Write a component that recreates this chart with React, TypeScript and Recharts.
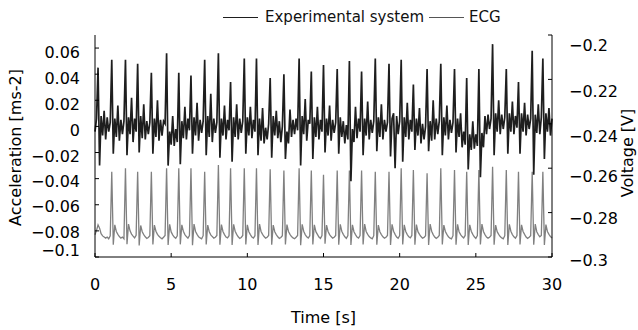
import React from 'react';
import { LineChart, Line, XAxis, YAxis, Legend, Label } from 'recharts';

const TIME_START = 0;
const TIME_STEP = 0.1;
const xTicks = [0, 5, 10, 15, 20, 25, 30];
const accTicks = [-0.1, -0.08, -0.06, -0.04, -0.02, 0, 0.02, 0.04, 0.06];
const voltTicks = [-0.3, -0.28, -0.26, -0.24, -0.22, -0.2];
const seriesNames = ['Experimental system', 'ECG'];

const experimental = [
  -0.004, 0.006, 0.045, -0.030, 0.008, -0.007, 0.012, -0.010, 0.007, -0.004,
  0.003, 0.051, -0.021, 0.006, -0.008, 0.016, -0.011, 0.005, -0.006, 0.004,
  0.051, -0.022, 0.007, -0.006, 0.022, -0.012, 0.006, -0.004, 0.048, -0.020,
  0.008, -0.009, 0.017, -0.010, 0.004, -0.006, 0.003, 0.041, -0.021, 0.006,
  -0.008, 0.020, -0.011, 0.005, -0.007, 0.004, 0.002, 0.056, -0.030, -0.004,
  -0.014, 0.008, -0.015, -0.002, -0.012, 0.041, -0.029, 0.004, -0.009, 0.015,
  -0.010, 0.006, -0.003, 0.039, -0.021, 0.007, -0.007, 0.018, -0.011, 0.005,
  -0.005, 0.004, 0.051, -0.022, 0.008, -0.008, 0.025, -0.012, 0.006, -0.005,
  0.003, 0.056, -0.024, 0.006, -0.007, 0.016, -0.010, 0.005, -0.003, 0.034,
  -0.027, 0.007, -0.008, 0.017, -0.010, 0.006, -0.005, 0.004, 0.052, -0.021,
  0.007, -0.007, 0.015, -0.009, 0.005, -0.004, 0.052, -0.022, 0.006, -0.011,
  0.014, -0.013, -0.001, -0.010, 0.002, 0.037, -0.024, 0.008, -0.007, 0.012,
  -0.009, 0.004, -0.012, 0.000, 0.040, -0.025, -0.004, -0.013, 0.013, -0.008,
  0.005, -0.006, 0.006, -0.003, 0.052, -0.030, 0.008, -0.006, 0.021, -0.011,
  0.005, 0.002, 0.042, -0.025, 0.007, -0.008, 0.015, -0.010, 0.005, -0.004,
  0.047, -0.020, 0.006, -0.007, 0.016, -0.011, 0.005, -0.005, 0.003, 0.044,
  -0.021, 0.007, -0.008, 0.004, -0.013, 0.001, -0.010, 0.050, -0.042, -0.002,
  -0.012, 0.015, -0.009, 0.006, -0.004, 0.042, -0.022, 0.006, -0.007, 0.019,
  -0.010, 0.005, -0.005, 0.004, 0.052, -0.019, 0.007, -0.008, 0.017, -0.010,
  0.005, -0.004, 0.003, 0.048, -0.023, 0.006, 0.010, -0.032, 0.008, -0.006,
  0.004, 0.051, -0.027, 0.007, -0.008, 0.018, -0.010, 0.005, -0.004, 0.032,
  -0.018, 0.006, -0.007, 0.014, -0.013, 0.002, -0.010, 0.000, 0.044, -0.019,
  0.004, -0.011, 0.020, -0.010, 0.006, -0.006, 0.004, 0.048, -0.022, 0.007,
  -0.007, 0.016, -0.010, 0.005, -0.005, 0.003, 0.044, -0.020, 0.006, -0.008,
  0.010, -0.016, -0.004, -0.014, 0.037, -0.033, -0.006, -0.018, 0.004, -0.017,
  -0.006, -0.015, 0.044, -0.039, -0.005, -0.016, 0.008, -0.006, 0.009, -0.002,
  0.006, 0.063, -0.022, 0.010, -0.004, 0.020, -0.006, 0.009, -0.002, 0.007,
  0.044, -0.021, 0.010, -0.004, 0.019, -0.006, 0.008, -0.001, 0.034, -0.021,
  0.010, -0.004, 0.018, -0.007, 0.009, -0.002, 0.006, 0.058, -0.037, 0.009,
  -0.005, 0.017, -0.006, 0.007, 0.052, -0.025, 0.010, -0.004, 0.014, -0.007, 0.006,
];

const ecg = [
  -0.2900, -0.2880, -0.2855, -0.2870, -0.2895, -0.2905, -0.2910, -0.2915, -0.2910, -0.2918,
  -0.2905, -0.2616, -0.2945, -0.2855, -0.2885, -0.2898, -0.2908, -0.2915, -0.2910, -0.2918,
  -0.2600, -0.2942, -0.2852, -0.2882, -0.2897, -0.2906, -0.2914, -0.2902, -0.2616, -0.2948,
  -0.2858, -0.2886, -0.2899, -0.2909, -0.2916, -0.2912, -0.2904, -0.2616, -0.2944, -0.2856,
  -0.2884, -0.2898, -0.2907, -0.2913, -0.2918, -0.2911, -0.2903, -0.2600, -0.2946, -0.2853,
  -0.2887, -0.2900, -0.2910, -0.2916, -0.2905, -0.2600, -0.2943, -0.2855, -0.2884, -0.2899,
  -0.2908, -0.2915, -0.2903, -0.2600, -0.2947, -0.2852, -0.2885, -0.2898, -0.2909, -0.2914,
  -0.2918, -0.2904, -0.2616, -0.2944, -0.2856, -0.2886, -0.2900, -0.2908, -0.2915, -0.2911,
  -0.2903, -0.2586, -0.2945, -0.2854, -0.2885, -0.2899, -0.2910, -0.2914, -0.2904, -0.2600,
  -0.2946, -0.2853, -0.2884, -0.2898, -0.2909, -0.2916, -0.2912, -0.2903, -0.2600, -0.2944,
  -0.2855, -0.2886, -0.2899, -0.2910, -0.2915, -0.2904, -0.2600, -0.2946, -0.2852, -0.2885,
  -0.2898, -0.2908, -0.2915, -0.2911, -0.2903, -0.2605, -0.2945, -0.2856, -0.2886, -0.2899,
  -0.2909, -0.2916, -0.2912, -0.2904, -0.2610, -0.2944, -0.2854, -0.2885, -0.2898, -0.2908,
  -0.2914, -0.2918, -0.2911, -0.2903, -0.2600, -0.2947, -0.2853, -0.2884, -0.2899, -0.2909,
  -0.2915, -0.2904, -0.2610, -0.2944, -0.2855, -0.2886, -0.2898, -0.2910, -0.2916, -0.2903,
  -0.2630, -0.2940, -0.2856, -0.2885, -0.2899, -0.2908, -0.2915, -0.2911, -0.2903, -0.2610,
  -0.2945, -0.2853, -0.2884, -0.2898, -0.2909, -0.2916, -0.2904, -0.2610, -0.2946, -0.2855,
  -0.2886, -0.2899, -0.2910, -0.2915, -0.2903, -0.2610, -0.2944, -0.2852, -0.2885, -0.2898,
  -0.2908, -0.2914, -0.2918, -0.2904, -0.2616, -0.2945, -0.2856, -0.2886, -0.2899, -0.2909,
  -0.2915, -0.2911, -0.2903, -0.2616, -0.2946, -0.2853, -0.2884, -0.2898, -0.2910, -0.2916,
  -0.2904, -0.2600, -0.2944, -0.2855, -0.2885, -0.2899, -0.2909, -0.2914, -0.2903, -0.2608,
  -0.2945, -0.2854, -0.2886, -0.2898, -0.2908, -0.2915, -0.2912, -0.2904, -0.2623, -0.2946,
  -0.2852, -0.2884, -0.2899, -0.2910, -0.2916, -0.2911, -0.2903, -0.2600, -0.2944, -0.2856,
  -0.2885, -0.2898, -0.2909, -0.2915, -0.2918, -0.2904, -0.2608, -0.2945, -0.2853, -0.2886,
  -0.2899, -0.2908, -0.2914, -0.2903, -0.2616, -0.2946, -0.2855, -0.2884, -0.2898, -0.2909,
  -0.2916, -0.2904, -0.2608, -0.2944, -0.2852, -0.2885, -0.2899, -0.2910, -0.2915, -0.2911,
  -0.2903, -0.2593, -0.2945, -0.2856, -0.2886, -0.2898, -0.2908, -0.2914, -0.2918, -0.2904,
  -0.2608, -0.2946, -0.2853, -0.2884, -0.2899, -0.2909, -0.2915, -0.2903, -0.2616, -0.2944,
  -0.2855, -0.2885, -0.2898, -0.2910, -0.2916, -0.2911, -0.2904, -0.2616, -0.2945, -0.2852,
  -0.2886, -0.2899, -0.2909, -0.2903, -0.2616, -0.2946, -0.2854, -0.2885, -0.2898, -0.2908, -0.2914,
];

const data = experimental.map((v, i) => ({
  t: Math.round((TIME_START + i * TIME_STEP) * 10) / 10,
  exp: v,
  ecg: ecg[i],
}));

const FONT = '"DejaVu Sans", sans-serif';
const BLACK = '#1e1e1e';
const GRAY = '#808080';

const fmt = (v: number) => (v === 0 ? '0' : String(v).replace('-', '\u2212'));

const LEFT_OFF = [-7, 1, 2, 3, 3.6, 3.7, 3.8, 4.2, 4.7];
const RIGHT_OFF = [3, 5.7, 8.5, 12.9, 12.3, 10];

const LeftTick = (props: any) => {
  const { x, y, payload, index } = props;
  return (
    <text x={x} y={y + (LEFT_OFF[index] ?? 3)} dy="0.355em" textAnchor="end" fill="#000" fontSize={16} fontFamily={FONT}>
      {fmt(payload.value)}
    </text>
  );
};

const RightTick = (props: any) => {
  const { x, y, payload, index } = props;
  return (
    <text x={x} y={y + (RIGHT_OFF[index] ?? 6)} dy="0.355em" textAnchor="start" fill="#000" fontSize={16} fontFamily={FONT}>
      {fmt(payload.value)}
    </text>
  );
};

const BottomTick = (props: any) => {
  const { x, y, payload } = props;
  return (
    <text x={x} y={y} dy="0.71em" textAnchor="middle" fill="#000" fontSize={16} fontFamily={FONT}>
      {payload.value}
    </text>
  );
};

const VerticalTitle = (text: string, side: 'left' | 'right', dx: number, dy: number) => (props: any) => {
  const vb = props.viewBox || {};
  const cx = side === 'left' ? vb.x + dx : vb.x + vb.width - dx;
  const cy = vb.y + vb.height / 2 + dy;
  return (
    <text
      x={cx}
      y={cy}
      dy="0.355em"
      textAnchor="middle"
      fill="#000"
      fontSize={16}
      fontFamily={FONT}
      transform={`rotate(-90, ${cx}, ${cy})`}
    >
      {text}
    </text>
  );
};

const renderLegend = () => (
  <div style={{ display: 'flex', alignItems: 'center', fontFamily: FONT, fontSize: 15, color: '#111', lineHeight: '20px', whiteSpace: 'nowrap' }}>
    <span style={{ display: 'inline-block', width: 35, height: 0, borderTop: `1.5px solid ${BLACK}`, marginRight: 7 }} />
    <span>{seriesNames[0]}</span>
    <span style={{ display: 'inline-block', width: 35, height: 0, borderTop: `1.5px solid #555`, marginLeft: 5, marginRight: 5 }} />
    <span>{seriesNames[1]}</span>
  </div>
);

export default function App() {
  return (
    <div style={{ position: 'absolute', left: 0, top: 0, width: 638, height: 330, background: '#fff' }}>
      <LineChart
        width={638}
        height={330}
        data={data}
        margin={{ top: 35, right: 0, bottom: 0, left: 0 }}
        style={{ fontFamily: FONT }}
      >
        <XAxis
          dataKey="t"
          type="number"
          domain={[0, 30]}
          ticks={xTicks}
          height={73}
          axisLine={{ stroke: '#000', strokeWidth: 1 }}
          tickLine={{ stroke: '#000', strokeWidth: 1 }}
          tickSize={-4}
          tickMargin={26}
          tick={<BottomTick />}
          interval={0}
        >
          <Label value="Time [s]" position="insideBottom" offset={7} fill="#000" fontSize={16} fontFamily={FONT} />
        </XAxis>
        <YAxis
          yAxisId="left"
          type="number"
          domain={[-0.1, 0.07]}
          ticks={accTicks}
          width={95}
          axisLine={{ stroke: '#000', strokeWidth: 1 }}
          tickLine={{ stroke: '#000', strokeWidth: 1 }}
          tickSize={-4}
          tickMargin={19}
          tick={<LeftTick />}
          interval={0}
        >
          <Label content={VerticalTitle('Acceleration [ms-2]', 'left', 15, 1.5)} />
        </YAxis>
        <YAxis
          yAxisId="right"
          orientation="right"
          type="number"
          domain={[-0.3, -0.2]}
          ticks={voltTicks}
          width={86}
          axisLine={{ stroke: '#000', strokeWidth: 1 }}
          tickLine={{ stroke: '#000', strokeWidth: 1 }}
          tickSize={-4}
          tickMargin={21}
          tick={<RightTick />}
          interval={0}
        >
          <Label content={VerticalTitle('Voltage [V]', 'right', 10.5, 7)} />
        </YAxis>
        <Legend
          verticalAlign="middle"
          align="center"
          layout="horizontal"
          wrapperStyle={{ top: 7, left: 223, width: 330, height: 20 }}
          content={renderLegend}
        />
        <Line
          yAxisId="right"
          type="linear"
          dataKey="ecg"
          name={seriesNames[1]}
          stroke={GRAY}
          strokeWidth={1.3}
          dot={false}
          isAnimationActive={false}
        />
        <Line
          yAxisId="left"
          type="linear"
          dataKey="exp"
          name={seriesNames[0]}
          stroke={BLACK}
          strokeWidth={1.7}
          dot={false}
          isAnimationActive={false}
        />
      </LineChart>
    </div>
  );
}
